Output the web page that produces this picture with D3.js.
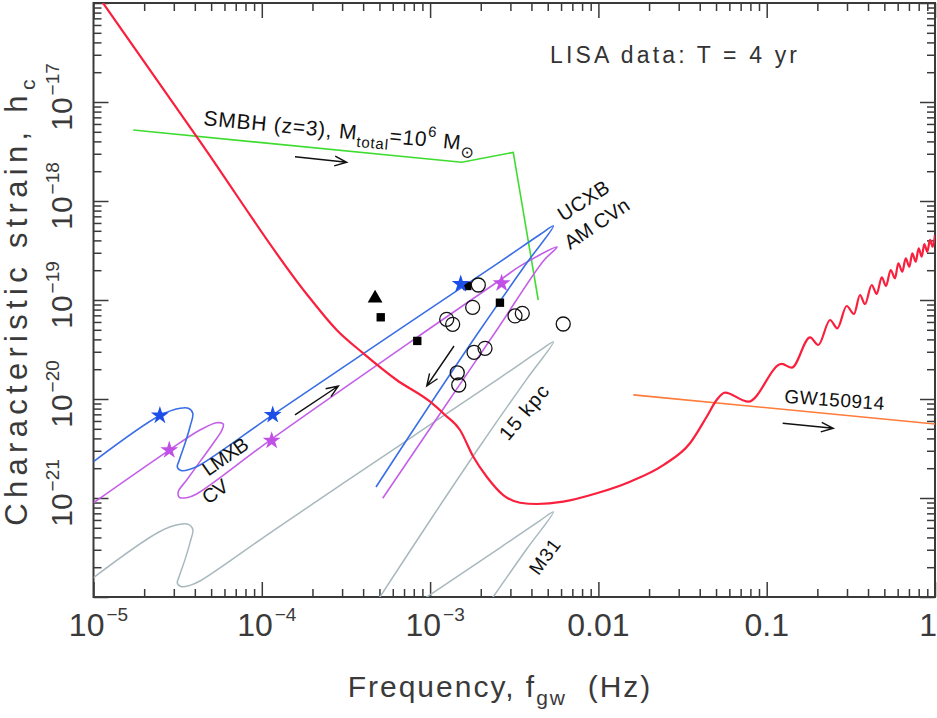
<!DOCTYPE html>
<html lang="en">
<head>
<meta charset="UTF-8">
<title>Characteristic strain vs frequency</title>
<script src="https://d3js.org/d3.v7.min.js"></script>
<style>
  body { margin: 0; background: #fff; }
  svg { display: block; font-family: "Liberation Sans", Arial, sans-serif; }
</style>
</head>
<body>
<svg id="chart" width="937" height="718"></svg>
<script>
// ---- data (frequency in Hz, characteristic strain h_c) ----
const xTicks = [1e-5, 1e-4, 1e-3, 1e-2, 1e-1, 1];
const xTickLabels = [["10", "−5"], ["10", "−4"], ["10", "−3"], ["0.01", ""], ["0.1", ""], ["1", ""]];
const yTicks = [1e-21, 1e-20, 1e-19, 1e-18, 1e-17];
const yTickLabels = [["10", "−21"], ["10", "−20"], ["10", "−19"], ["10", "−18"], ["10", "−17"]];

// LISA sensitivity (T = 4 yr)
const lisaCurve = [
  [1e-5, 1.37e-16], [4.29e-5, 4.01e-18], [1.934e-4, 1.04e-19], [2.786e-4, 4.98e-20],
  [4.01e-4, 2.89e-20], [6.33e-4, 1.556e-20], [1.0e-3, 9.39e-21], [1.227e-3, 6.9e-21],
  [1.505e-3, 4.86e-21], [1.806e-3, 2.61e-21], [2.17e-3, 1.64e-21], [2.72e-3, 1.072e-21],
  [3.42e-3, 8.96e-22], [4.3e-3, 8.7e-22], [6.18e-3, 9.18e-22], [9.77e-3, 1.115e-21],
  [1.541e-2, 1.46e-21], [2.43e-2, 2.15e-21], [3.5e-2, 3.57e-21], [4.4e-2, 6.62e-21],
  [5.04e-2, 9.77e-21], [0.0565, 1.16e-20], [0.0778, 9.39e-21], [0.123, 2.26e-20],
  [0.1408, 2.07e-20], [0.181, 4.2e-20], [0.2025, 3.51e-20], [0.238, 6.28e-20],
  [0.2627, 5.18e-20], [0.2987, 8.7e-20], [0.3302, 7.22e-20], [0.3584, 1.123e-19],
  [0.3838, 9.11e-20], [0.4207, 1.418e-19], [0.4503, 1.15e-19], [0.4826, 1.695e-19],
  [0.5115, 1.385e-19], [0.5454, 2.01e-19], [0.5785, 1.656e-19], [0.6053, 2.35e-19],
  [0.6393, 1.93e-19], [0.67, 2.64e-19], [0.7036, 2.17e-19], [0.733, 2.96e-19],
  [0.7679, 2.44e-19], [0.80, 3.33e-19], [0.8337, 2.74e-19], [0.864, 3.68e-19],
  [0.90, 3.07e-19], [0.934, 4.04e-19], [0.969, 3.45e-19], [1.0, 4.54e-19]
];

// UCXB / LMXB track (blue)
const ucxbTrack = [
  [1e-5, 2.33e-21], [2.48e-5, 6.81e-21], [3.27e-5, 8.05e-21], [3.66e-5, 8.05e-21],
  [3.89e-5, 7.17e-21], [3.745e-5, 5.25e-21], [3.50e-5, 3.57e-21], [3.235e-5, 2.42e-21],
  [3.15e-5, 2.04e-21], [3.34e-5, 1.887e-21], [3.745e-5, 1.95e-21], [4.29e-5, 2.155e-21],
  [1.161e-4, 6.9e-21], [6.63e-4, 5.1e-20], [2.60e-3, 2.43e-19], [4.50e-3, 4.59e-19],
  [5.40e-3, 5.59e-19], [3.75e-3, 2.36e-19], [1.98e-3, 4.98e-20], [1.022e-3, 9.33e-21],
  [4.77e-4, 1.29e-21]
];

// AM CVn / CV track (magenta)
const amcvnTrack = [
  [1e-5, 8.96e-22], [2.82e-5, 3.05e-21], [4.29e-5, 4.86e-21], [5.40e-5, 5.76e-21],
  [5.90e-5, 5.59e-21], [5.80e-5, 4.86e-21], [5.15e-5, 3.57e-21], [4.29e-5, 2.33e-21],
  [3.58e-5, 1.52e-21], [3.19e-5, 1.158e-21], [3.235e-5, 1.016e-21], [3.58e-5, 1.007e-21],
  [4.10e-5, 1.097e-21], [1.145e-4, 3.94e-21], [1.0e-3, 5.18e-20], [2.66e-3, 1.63e-19],
  [3.42e-3, 2.2e-19], [5.68e-3, 3.43e-19], [4.71e-3, 2.48e-19], [2.49e-3, 4.98e-20],
  [1.145e-3, 7.1e-21], [5.23e-4, 9.93e-22]
];

// UCXB track at 15 kpc (grey)
const kpc15Track = [
  [1e-5, 1.57e-22], [2.48e-5, 4.59e-22], [3.27e-5, 5.42e-22], [3.66e-5, 5.42e-22],
  [3.89e-5, 4.83e-22], [3.745e-5, 3.54e-22], [3.50e-5, 2.40e-22], [3.235e-5, 1.63e-22],
  [3.15e-5, 1.375e-22], [3.34e-5, 1.27e-22], [3.745e-5, 1.31e-22], [4.29e-5, 1.45e-22],
  [1.161e-4, 4.64e-22], [6.63e-4, 3.43e-21], [2.60e-3, 1.637e-20], [4.50e-3, 3.09e-20],
  [5.40e-3, 3.77e-20], [3.75e-3, 1.59e-20], [1.98e-3, 3.35e-21], [1.022e-3, 6.28e-22],
  [4.77e-4, 8.7e-23]
];

// UCXB track in M31 (grey)
const m31Track = [
  [1.161e-4, 8.9e-24], [6.63e-4, 6.58e-23], [2.60e-3, 3.14e-22], [4.50e-3, 5.92e-22],
  [5.40e-3, 7.22e-22], [3.75e-3, 3.05e-22], [1.98e-3, 6.43e-23], [1.022e-3, 1.2e-23]
];

const smbhTrack = [[1.724e-5, 5.21e-18], [1.54e-3, 2.46e-18], [3.12e-3, 3.10e-18], [4.39e-3, 1e-19]];
const gw150914Track = [[1.612e-2, 1.10e-20], [1, 5.59e-21]];

const circlePoints = [
  [1.934e-3, 1.418e-19], [1.79e-3, 8.44e-20], [1.255e-3, 6.38e-20], [1.362e-3, 5.68e-20],
  [3.195e-3, 6.9e-20], [3.53e-3, 7.34e-20], [1.824e-3, 2.96e-20], [2.12e-3, 3.25e-20],
  [1.45e-3, 1.84e-20], [1.48e-3, 1.385e-20], [6.18e-3, 5.72e-20]
];
const squarePoints = [[1.663e-3, 1.385e-19], [2.60e-3, 9.39e-20], [5.09e-4, 6.69e-20], [8.39e-4, 3.86e-20]];
const trianglePoints = [[4.71e-4, 1.04e-19]];
const ucxbStars = [[2.48e-5, 6.81e-21], [1.161e-4, 6.9e-21], [1.52e-3, 1.45e-19]];
const amcvnStars = [[2.82e-5, 3.05e-21], [1.145e-4, 3.8e-21], [2.66e-3, 1.475e-19]];

const arrowSegments = [
  [[1.575e-4, 2.8e-18], [3.195e-4, 2.46e-18]],
  [[1.575e-4, 6.9e-21], [2.85e-4, 1.353e-20]],
  [[1.387e-3, 3.43e-20], [9.55e-4, 1.353e-20]],
  [[0.1245, 5.68e-21], [0.2487, 5.06e-21]]
];

const plainLabels = ["LISA data: T = 4 yr", "UCXB", "AM CVn", "LMXB", "CV", "15 kpc", "M31", "GW150914"];

// ---- chart ----
const svg = d3.select("#chart");
const plotL = 93.5, plotR = 935, plotT = 3, plotB = 597;
const x = d3.scaleLog().domain([1e-5, 1]).range([plotL, plotR]);
const y = d3.scaleLog().domain([1e-22, 1e-16]).range([plotB, plotT]);

svg.append("defs").append("clipPath").attr("id", "plot")
  .append("rect").attr("x", plotL).attr("y", plotT)
  .attr("width", plotR - plotL).attr("height", plotB - plotT);

// ticks (inward, on all four sides)
const isDecade = v => Math.abs(Math.log10(v) - Math.round(Math.log10(v))) < 1e-9;
const minorX = x.ticks().filter(v => !isDecade(v));
const minorY = y.ticks().filter(v => !isDecade(v));
const axisColor = "#3a3a3a";

function tickAxis(axis, tr, values, size) {
  const g = svg.append("g").attr("transform", tr)
    .call(axis.tickValues(values).tickSize(-size).tickFormat(""));
  g.select(".domain").remove();
  g.attr("color", axisColor).selectAll("line").attr("stroke-width", 1.5);
}
const yMajor = yTicks.concat([1e-22, 1e-16]);
tickAxis(d3.axisBottom(x), `translate(0,${plotB})`, minorX, 8);
tickAxis(d3.axisBottom(x), `translate(0,${plotB})`, xTicks, 15);
tickAxis(d3.axisTop(x), `translate(0,${plotT})`, minorX, 8);
tickAxis(d3.axisTop(x), `translate(0,${plotT})`, xTicks, 15);
tickAxis(d3.axisLeft(y), `translate(${plotL},0)`, minorY, 8);
tickAxis(d3.axisLeft(y), `translate(${plotL},0)`, yMajor, 15);
tickAxis(d3.axisRight(y), `translate(${plotR},0)`, minorY, 8);
tickAxis(d3.axisRight(y), `translate(${plotR},0)`, yMajor, 15);

svg.append("rect").attr("x", plotL).attr("y", plotT)
  .attr("width", plotR - plotL).attr("height", plotB - plotT)
  .attr("fill", "none").attr("stroke", axisColor).attr("stroke-width", 2);

// tick labels
xTicks.forEach((v, i) => {
  const [base, exp] = xTickLabels[i];
  const last = i === xTicks.length - 1;
  const t = svg.append("text").attr("x", last ? 937 : x(v) + (exp ? 5 : 0)).attr("y", 636)
    .attr("text-anchor", last ? "end" : "middle").attr("fill", "#3a3a3a").attr("font-size", 32);
  t.append("tspan").text(base);
  if (exp) t.append("tspan").attr("font-size", 19).attr("dy", -15).attr("dx", 2).text(exp);
});
yTicks.forEach((v, i) => {
  const [base, exp] = yTickLabels[i];
  const t = svg.append("text").attr("transform", `translate(72,${y(v) - 5}) rotate(-90)`)
    .attr("text-anchor", "middle").attr("fill", "#3a3a3a").attr("font-size", 30);
  t.append("tspan").text(base);
  t.append("tspan").attr("font-size", 19).attr("dy", -13).attr("dx", 2).text(exp);
});

// axis titles
const xt = svg.append("text").attr("x", 500).attr("y", 697)
  .attr("text-anchor", "middle").attr("fill", "#3a3a3a").attr("font-size", 30)
  .attr("letter-spacing", 2);
xt.append("tspan").text("Frequency, f");
xt.append("tspan").attr("font-size", 21).attr("dy", 8).text("gw");
xt.append("tspan").attr("dy", -8).text("\u00a0 (Hz)");

const yt = svg.append("text").attr("transform", `translate(27,300) rotate(-90)`)
  .attr("text-anchor", "middle").attr("fill", "#3a3a3a").attr("font-size", 31)
  .attr("letter-spacing", 5.3);
yt.append("tspan").text("Characteristic strain, h");
yt.append("tspan").attr("font-size", 21).attr("dy", 8).text("c");

// curves
const plot = svg.append("g").attr("clip-path", "url(#plot)");
const line = curve => d3.line().x(d => x(d[0])).y(d => y(d[1])).curve(curve);
const track = d3.curveCatmullRom.alpha(0.5);

plot.append("path").datum(kpc15Track).attr("d", line(track))
  .attr("fill", "none").attr("stroke", "#a8b9be").attr("stroke-width", 1.5);
plot.append("path").datum(m31Track).attr("d", line(track))
  .attr("fill", "none").attr("stroke", "#a8b9be").attr("stroke-width", 1.5);
plot.append("path").datum(smbhTrack).attr("d", line(d3.curveLinear))
  .attr("fill", "none").attr("stroke", "#3fdc30").attr("stroke-width", 1.6);
plot.append("path").datum(gw150914Track).attr("d", line(d3.curveLinear))
  .attr("fill", "none").attr("stroke", "#ff7b3a").attr("stroke-width", 1.6);
plot.append("path").datum(amcvnTrack).attr("d", line(track))
  .attr("fill", "none").attr("stroke", "#c460e8").attr("stroke-width", 1.6);
plot.append("path").datum(ucxbTrack).attr("d", line(track))
  .attr("fill", "none").attr("stroke", "#3a6ee6").attr("stroke-width", 1.6);
plot.append("path").datum(lisaCurve).attr("d", line(d3.curveMonotoneX))
  .attr("fill", "none").attr("stroke", "#fa1f3c").attr("stroke-width", 2.2);

// markers
const sym = (type, size) => d3.symbol().type(type).size(size)();
plot.selectAll(".sq").data(squarePoints).join("path")
  .attr("d", sym(d3.symbolSquare, 70))
  .attr("transform", d => `translate(${x(d[0])},${y(d[1])})`).attr("fill", "#000");
plot.selectAll(".tri").data(trianglePoints).join("path")
  .attr("d", sym(d3.symbolTriangle, 95))
  .attr("transform", d => `translate(${x(d[0])},${y(d[1])})`).attr("fill", "#000");
plot.selectAll(".circ").data(circlePoints).join("circle")
  .attr("cx", d => x(d[0])).attr("cy", d => y(d[1])).attr("r", 7)
  .attr("fill", "none").attr("stroke", "#111").attr("stroke-width", 1.3);
plot.selectAll(".bstar").data(ucxbStars).join("path")
  .attr("d", sym(d3.symbolStar, 100))
  .attr("transform", d => `translate(${x(d[0])},${y(d[1])})`).attr("fill", "#1d4fe8");
plot.selectAll(".mstar").data(amcvnStars).join("path")
  .attr("d", sym(d3.symbolStar, 100))
  .attr("transform", d => `translate(${x(d[0])},${y(d[1])})`).attr("fill", "#c050e6");

// arrows
arrowSegments.forEach(([a, b]) => {
  const x0 = x(a[0]), y0 = y(a[1]), x1 = x(b[0]), y1 = y(b[1]);
  const ang = Math.atan2(y1 - y0, x1 - x0);
  const hl = 13, spread = 0.38;
  const p = d3.path();
  p.moveTo(x0, y0); p.lineTo(x1, y1);
  p.moveTo(x1 - hl * Math.cos(ang - spread), y1 - hl * Math.sin(ang - spread));
  p.lineTo(x1, y1);
  p.lineTo(x1 - hl * Math.cos(ang + spread), y1 - hl * Math.sin(ang + spread));
  svg.append("path").attr("d", p.toString()).attr("fill", "none")
    .attr("stroke", "#111").attr("stroke-width", 1.4);
});

// annotation labels
const labelPlacement = [
  { f: 5.16e-3, h: 2.48e-17, rot: 0, size: 23, len: 247, color: "#333" },
  { f: 6.18e-3, h: 6.14e-19, rot: -33, size: 20, len: 57, color: "#111" },
  { f: 6.78e-3, h: 3.2e-19, rot: -34, size: 20, len: 74, color: "#111" },
  { f: 4.81e-5, h: 1.64e-21, rot: -35, size: 20, len: 51, color: "#111" },
  { f: 4.81e-5, h: 8.5e-22, rot: -36, size: 20, len: 27, color: "#111" },
  { f: 2.915e-3, h: 3.7e-21, rot: -50, size: 20, len: 65, color: "#111" },
  { f: 4.40e-3, h: 1.62e-22, rot: -53.5, size: 19, len: 39, color: "#111" },
  { f: 0.1267, h: 9.18e-21, rot: 4.2, size: 19, len: 100, color: "#111" }
];
plainLabels.forEach((txt, i) => {
  const p = labelPlacement[i];
  svg.append("text")
    .attr("transform", `translate(${x(p.f)},${y(p.h)}) rotate(${p.rot})`)
    .attr("font-size", p.size).attr("fill", p.color)
    .attr("textLength", p.len).attr("lengthAdjust", "spacing")
    .text(txt);
});

const smbh = svg.append("text")
  .attr("transform", `translate(${x(4.47e-5)},${y(5.86e-18)}) rotate(5.5)`)
  .attr("font-size", 21).attr("fill", "#111").attr("letter-spacing", 0.8);
smbh.append("tspan").text("SMBH (z=3), M");
smbh.append("tspan").attr("font-size", 15).attr("dy", 7).text("total");
smbh.append("tspan").attr("dy", -7).text("=10");
smbh.append("tspan").attr("font-size", 15).attr("dy", -10).text("6");
smbh.append("tspan").attr("dy", 10).text(" M");
smbh.append("tspan").attr("font-size", 16).attr("dy", 7).text("⊙");
</script>
</body>
</html>
